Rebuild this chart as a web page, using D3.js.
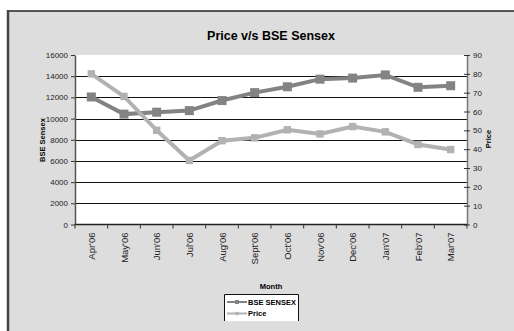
<!DOCTYPE html>
<html>
<head>
<meta charset="utf-8">
<script src="https://cdn.jsdelivr.net/npm/d3@7"></script>
<style>
body { margin: 0; background: #fff; }
svg { display: block; font-family: "Liberation Sans", Arial, sans-serif; }
</style>
</head>
<body>
<svg width="514" height="331"></svg>
<script>
const WIDTH = 514
const HEIGHT = 331

const months = ["Apr'06", "May'06", "Jun'06", "Jul'06", "Aug'06", "Sept'06",
    "Oct'06", "Nov'06", "Dec'06", "Jan'07", "Feb'07", "Mar'07"]
const sensex = [12040, 10420, 10600, 10750, 11700, 12450, 13000, 13720, 13820, 14120, 12950, 13100]
const price = [80, 68, 50, 34, 44.5, 46, 50.3, 48.1, 52, 49.2, 42.5, 39.8]
const leftTicks = [0, 2000, 4000, 6000, 8000, 10000, 12000, 14000, 16000]
const rightTicks = [0, 10, 20, 30, 40, 50, 60, 70, 80, 90]

const PLOT = { left: 75, right: 467, top: 55, bottom: 224.5 }
const SENSEX_COLOR = "#838383"
const PRICE_COLOR = "#b2b2b2"

const svg = d3.select("svg")

// chart area frame
svg.append("rect")
    .attr("x", 8)
    .attr("y", 11)
    .attr("width", 530)
    .attr("height", 340)
    .attr("fill", "#dddddd")
svg.append("line")
    .attr("x1", 8).attr("x2", WIDTH)
    .attr("y1", 11).attr("y2", 11)
    .attr("stroke", "#222").attr("stroke-width", 1.5)
svg.append("line")
    .attr("x1", 8).attr("x2", 8)
    .attr("y1", 10).attr("y2", HEIGHT)
    .attr("stroke", "#444").attr("stroke-width", 2.5)

svg.append("text")
    .attr("x", 271)
    .attr("y", 40)
    .attr("text-anchor", "middle")
    .attr("font-weight", "bold")
    .attr("font-size", 12.5)
    .text("Price v/s BSE Sensex")

let x = d3.scaleBand()
    .domain(months)
    .range([PLOT.left, PLOT.right])

let yLeft = d3.scaleLinear()
    .domain([0, 16000])
    .range([PLOT.bottom, PLOT.top])

let yRight = d3.scaleLinear()
    .domain([0, 90])
    .range([PLOT.bottom, PLOT.top])

// plot area
svg.append("rect")
    .attr("x", PLOT.left)
    .attr("y", PLOT.top)
    .attr("width", PLOT.right - PLOT.left)
    .attr("height", PLOT.bottom - PLOT.top)
    .attr("fill", "#fff")

svg.append("g")
    .selectAll("line")
    .data(leftTicks.slice(1, -1))
    .join("line")
    .attr("x1", PLOT.left).attr("x2", PLOT.right)
    .attr("y1", d => Math.round(yLeft(d)) + 0.5)
    .attr("y2", d => Math.round(yLeft(d)) + 0.5)
    .attr("stroke", "#111")
    .attr("stroke-width", 1)

// left axis
let leftAxis = svg.append("g")
    .attr("transform", "translate(" + PLOT.left + ",0)")
    .call(d3.axisLeft(yLeft).tickValues(leftTicks).tickSize(4).tickSizeOuter(0).tickPadding(3).tickFormat(d3.format("d")))
leftAxis.select(".domain").attr("stroke", "#555").attr("stroke-width", 1.5)
leftAxis.selectAll(".tick line").attr("stroke", "#333")
leftAxis.selectAll("text").attr("font-size", 8).attr("font-family", null).attr("fill", "#222")

// right axis, ticks cross the line
let rightAxis = svg.append("g")
    .attr("transform", "translate(" + PLOT.right + ",0)")
    .call(d3.axisRight(yRight).tickValues(rightTicks).tickSize(3).tickSizeOuter(0).tickPadding(3))
rightAxis.select(".domain").attr("stroke", "#777").attr("stroke-width", 1.5)
rightAxis.selectAll(".tick line").attr("x1", -3).attr("stroke", "#333")
rightAxis.selectAll("text").attr("font-size", 8).attr("font-family", null).attr("fill", "#222")

// bottom axis: ticks between categories
let bottom = svg.append("g")
bottom.append("line")
    .attr("x1", PLOT.left).attr("x2", PLOT.right)
    .attr("y1", PLOT.bottom).attr("y2", PLOT.bottom)
    .attr("stroke", "#222").attr("stroke-width", 1.5)
bottom.selectAll("line.tk")
    .data(months.concat(["end"]))
    .join("line")
    .classed("tk", true)
    .attr("x1", (d, i) => PLOT.left + i * x.step())
    .attr("x2", (d, i) => PLOT.left + i * x.step())
    .attr("y1", PLOT.bottom)
    .attr("y2", PLOT.bottom + 4)
    .attr("stroke", "#333")
bottom.selectAll("text")
    .data(months)
    .join("text")
    .attr("transform", d => "translate(" + (x(d) + x.bandwidth() / 2 + 3.5) + "," + (PLOT.bottom + 8) + ") rotate(-90)")
    .attr("text-anchor", "end")
    .attr("font-size", 9.5)
    .attr("fill", "#222")
    .text(d => d)

// axis titles
svg.append("text")
    .attr("transform", "translate(45,140) rotate(-90)")
    .attr("text-anchor", "middle")
    .attr("font-weight", "bold")
    .attr("font-size", 7.5)
    .text("BSE Sensex")
svg.append("text")
    .attr("transform", "translate(491,139) rotate(-90)")
    .attr("text-anchor", "middle")
    .attr("font-weight", "bold")
    .attr("font-size", 7.5)
    .text("Price")
svg.append("text")
    .attr("x", 271)
    .attr("y", 289)
    .attr("text-anchor", "middle")
    .attr("font-weight", "bold")
    .attr("font-size", 7.5)
    .text("Month")

const cx = d => x(d) + x.bandwidth() / 2

let priceLine = d3.line()
    .x((d, i) => cx(months[i]))
    .y(d => yRight(d))
let sensexLine = d3.line()
    .x((d, i) => cx(months[i]))
    .y(d => yLeft(d))

svg.append("path")
    .datum(sensex)
    .attr("d", sensexLine)
    .attr("fill", "none")
    .attr("stroke", SENSEX_COLOR)
    .attr("stroke-width", 4)
svg.append("g")
    .selectAll("rect")
    .data(sensex)
    .join("rect")
    .attr("x", (d, i) => cx(months[i]) - 4.5)
    .attr("y", d => yLeft(d) - 4.5)
    .attr("width", 9)
    .attr("height", 9)
    .attr("fill", SENSEX_COLOR)

svg.append("path")
    .datum(price)
    .attr("d", priceLine)
    .attr("fill", "none")
    .attr("stroke", PRICE_COLOR)
    .attr("stroke-width", 4)
svg.append("g")
    .selectAll("path")
    .data(price)
    .join("path")
    .attr("d", d3.symbol(d3.symbolDiamond2, 70))
    .attr("transform", (d, i) => "translate(" + cx(months[i]) + "," + yRight(d) + ") rotate(45)")
    .attr("fill", PRICE_COLOR)

// legend (box is clipped at the bottom in the original)
let legend = svg.append("g").attr("transform", "translate(224,294)")
legend.append("rect")
    .attr("width", 75)
    .attr("height", 27)
    .attr("fill", "#fff")
legend.append("path")
    .attr("d", "M0.5,27V0.5H74.5V27")
    .attr("fill", "none")
    .attr("stroke", "#111")
    .attr("stroke-width", 1)

let items = [
    { name: "BSE SENSEX", color: SENSEX_COLOR, sym: "square" },
    { name: "Price", color: PRICE_COLOR, sym: "diamond" }
]
let rows = legend.selectAll("g.item")
    .data(items)
    .join("g")
    .classed("item", true)
    .attr("transform", (d, i) => "translate(0," + (8 + i * 11.5) + ")")
rows.append("line")
    .attr("x1", 3).attr("x2", 23)
    .attr("stroke", d => d.color)
    .attr("stroke-width", 2)
rows.append("path")
    .attr("d", d => d.sym === "square" ? d3.symbol(d3.symbolSquare, 16)() : d3.symbol(d3.symbolDiamond2, 14)())
    .attr("transform", d => "translate(13,0)" + (d.sym === "diamond" ? " rotate(45)" : ""))
    .attr("fill", d => d.color)
rows.append("text")
    .attr("x", 24)
    .attr("y", 2.8)
    .attr("font-size", 7.5)
    .attr("font-weight", "bold")
    .text(d => d.name)
</script>
</body>
</html>
